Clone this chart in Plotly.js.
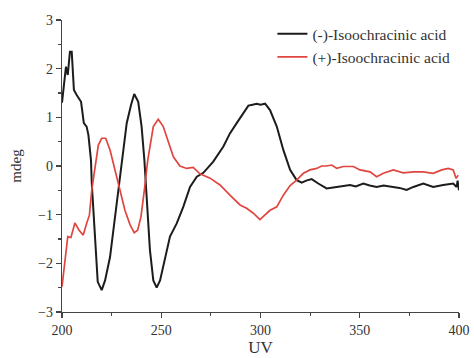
<!DOCTYPE html>
<html>
<head>
<meta charset="utf-8">
<script src="https://cdn.plot.ly/plotly-3.0.1.min.js"></script>
<style>html,body{margin:0;padding:0;background:#fff;}#chart{width:474px;height:358px;}</style>
</head>
<body>
<div id="chart"></div>
<script>
// (-)-Isoochracinic acid (black)
const minusX = [200,201.2,202,202.9,204,204.9,206,207.4,209.6,211,212.4,213.3,214.6,215,216.6,218,220,221.7,224.2,226.7,229.2,230.9,232.6,234.8,236.4,238.4,240.1,241.5,242.7,244.3,246,247.7,249.4,251.9,254.4,257.8,261.1,264.5,267.9,271.2,276.2,281.3,284.6,288,291.3,293.9,296,298.1,300,302.3,304.8,308.2,311.5,314.9,318.2,320.8,323,325.8,329.1,333.3,338.4,342,345.1,348,351.8,355,358.5,362,366.9,370,373.6,377,382,387,392,395,397.1,398.8,399.3,400];
const minusY = [1.30,1.77,2.04,1.87,2.35,2.35,1.56,1.46,1.32,0.88,0.81,0.64,0.12,-0.36,-1.38,-2.38,-2.55,-2.35,-1.87,-1.04,-0.22,0.33,0.88,1.26,1.48,1.32,0.81,0.12,-0.70,-1.73,-2.35,-2.50,-2.35,-1.90,-1.45,-1.18,-0.84,-0.43,-0.22,-0.14,0.09,0.40,0.67,0.88,1.08,1.24,1.26,1.28,1.26,1.28,1.15,0.81,0.33,-0.08,-0.29,-0.34,-0.30,-0.27,-0.36,-0.46,-0.43,-0.41,-0.39,-0.42,-0.36,-0.40,-0.43,-0.40,-0.43,-0.45,-0.49,-0.43,-0.36,-0.43,-0.39,-0.38,-0.36,-0.43,-0.30,-0.50];

// (+)-Isoochracinic acid (red)
const plusX = [200,201.5,202.9,204.5,206.5,208.6,210.7,212.4,213.8,215,216.6,218.3,220,222,224.2,225.8,226.7,229.2,231.7,234.3,236.4,238.1,239.8,241.5,243.2,246,248.5,251,253.6,256.1,259.4,262.8,266.1,269.5,274.6,279.6,284.6,289.7,293,296.4,299.7,302.3,304.8,308.2,311.5,314.9,318.2,321.6,324.9,328.3,330.8,333.3,335.9,338.4,341.7,346.8,350.1,355.2,358.5,361.9,366.9,371.9,377,382,387,391.3,394.6,397.1,398.5,399.6];
const plusY = [-2.48,-1.93,-1.45,-1.47,-1.17,-1.32,-1.42,-1.18,-1.01,-0.49,-0.01,0.43,0.57,0.57,0.33,0.06,-0.08,-0.49,-0.91,-1.21,-1.37,-1.32,-1.04,-0.49,0.12,0.81,0.96,0.81,0.47,0.19,0.0,-0.05,-0.03,-0.16,-0.25,-0.39,-0.60,-0.80,-0.87,-0.97,-1.10,-1.00,-0.91,-0.84,-0.60,-0.40,-0.29,-0.15,-0.08,-0.05,0.0,0.0,0.02,-0.05,-0.01,-0.01,-0.08,-0.12,-0.22,-0.15,-0.08,-0.14,-0.12,-0.12,-0.15,-0.08,-0.05,-0.08,-0.25,-0.19];

const seriesNames = ['(-)-Isoochracinic acid', '(+)-Isoochracinic acid'];

const font = 'Liberation Serif, Times New Roman, serif';
const traces = [
  {x: minusX, y: minusY, name: seriesNames[0], mode: 'lines', line: {color: '#1c1c1c', width: 2}},
  {x: plusX, y: plusY, name: seriesNames[1], mode: 'lines', line: {color: '#e0453f', width: 1.7}}
];
const axisCommon = {
  showgrid: false, zeroline: false, showline: true, linecolor: '#444', linewidth: 1.3,
  ticks: 'outside', ticklen: 5, tickwidth: 1.2, tickcolor: '#444',
  tickfont: {family: font, size: 14, color: '#333'}
};
const layout = {
  width: 474, height: 358,
  margin: {l: 62, r: 15, t: 20, b: 46},
  paper_bgcolor: '#fff', plot_bgcolor: '#fff',
  font: {family: font, color: '#333'},
  showlegend: true,
  legend: {x: 0.53, y: 1.01, xanchor: 'left', yanchor: 'top', bgcolor: 'rgba(0,0,0,0)',
           font: {family: font, size: 15.5, color: '#333'}, tracegroupgap: 0, itemwidth: 30},
  xaxis: Object.assign({}, axisCommon, {range: [200, 400], dtick: 50, tick0: 200,
    minor: {dtick: 25, ticks: 'outside', ticklen: 3, tickcolor: '#444', showgrid: false},
    title: {text: 'UV', font: {family: font, size: 17, color: '#333'}, standoff: 4}}),
  yaxis: Object.assign({}, axisCommon, {range: [-3, 3], dtick: 1, tick0: 0,
    minor: {dtick: 0.5, ticks: 'outside', ticklen: 3, tickcolor: '#444', showgrid: false},
    title: {text: 'mdeg', font: {family: font, size: 15, color: '#333'}, standoff: 12}})
};
Plotly.newPlot('chart', traces, layout, {displayModeBar: false, staticPlot: true});
</script>
</body>
</html>
